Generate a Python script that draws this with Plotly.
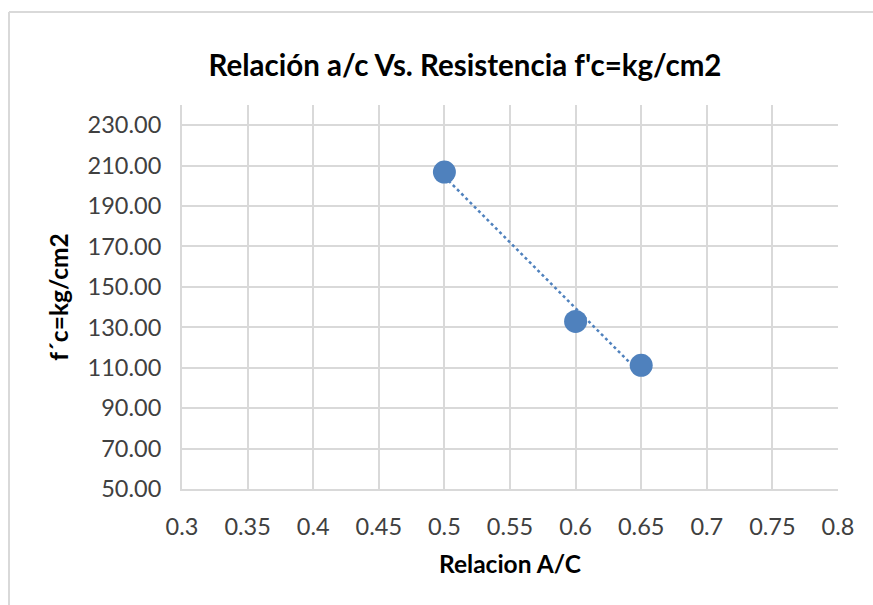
import numpy as np
import plotly.graph_objects as go

relacion = [0.5, 0.6, 0.65]
resistencia = [206.8, 132.9, 111.2]

x_ticks = [0.3, 0.35, 0.4, 0.45, 0.5, 0.55, 0.6, 0.65, 0.7, 0.75, 0.8]
x_tick_text = ["0.3", "0.35", "0.4", "0.45", "0.5", "0.55", "0.6", "0.65", "0.7", "0.75", "0.8"]

title = "Relación a/c Vs. Resistencia f'c=kg/cm2"
x_title = "Relacion A/C"
y_title = "f´c=kg/cm2"

BLUE = "#4F81BD"
GRID = "#d9d9d9"
FONT = "Lato"

# linear trendline (least squares) over the data range
slope, intercept = np.polyfit(relacion, resistencia, 1)
trend_x = [min(relacion), max(relacion)]
trend_y = [slope * v + intercept for v in trend_x]

fig = go.Figure()
fig.add_trace(go.Scatter(
    x=trend_x, y=trend_y, mode="lines",
    line=dict(color=BLUE, width=2.5, dash="dot"),
    showlegend=False, hoverinfo="skip",
))
fig.add_trace(go.Scatter(
    x=relacion, y=resistencia, mode="markers",
    marker=dict(color=BLUE, size=23),
    showlegend=False,
))

W, H = 873, 605
L, R, T, B = 182, 35, 105, 116
pw, ph = W - L - R, H - T - B

def px(xp):
    return (xp - L) / pw

def py(yp):
    return (H - B - yp) / ph

fig.update_layout(
    width=W, height=H,
    margin=dict(l=L, r=R, t=T, b=B),
    paper_bgcolor="white", plot_bgcolor="white",
    font=dict(family=FONT, color="#404040"),
    title=dict(text="<b>" + title + "</b>", x=465 / W, xref="container",
               y=(H - 66) / H, yref="container",
               yanchor="middle", xanchor="center",
               font=dict(size=29.5, color="#000000", family=FONT)),
    xaxis=dict(range=[0.3, 0.8], tickvals=x_ticks, ticktext=x_tick_text,
               showgrid=True, gridcolor=GRID, gridwidth=2,
               showline=True, linecolor=GRID, linewidth=2,
               zeroline=False, ticks="", ticklen=0, ticklabelstandoff=16,
               tickfont=dict(size=23.5, color="#404040"),
               title=dict(text="<b>" + x_title + "</b>", standoff=17,
                          font=dict(size=24.5, color="#000000"))),
    yaxis=dict(range=[50, 240], tick0=50, dtick=20, tickformat=".2f",
               showgrid=True, gridcolor=GRID, gridwidth=2,
               showline=True, linecolor=GRID, linewidth=2,
               zeroline=False, ticks="", ticklen=0, ticklabelstandoff=14,
               tickfont=dict(size=23.5, color="#404040"),
               title=dict(text="<b>" + y_title + "</b>", standoff=12,
                          font=dict(size=24.5, color="#000000"))),
    shapes=[
        dict(type="line", xref="paper", yref="paper",
             x0=px(9), x1=px(873), y0=py(12), y1=py(12),
             line=dict(color="#d9d9d9", width=2)),
        dict(type="line", xref="paper", yref="paper",
             x0=px(9), x1=px(9), y0=py(12), y1=py(605),
             line=dict(color="#d9d9d9", width=2)),
    ],
)

fig.write_html("out.html")
